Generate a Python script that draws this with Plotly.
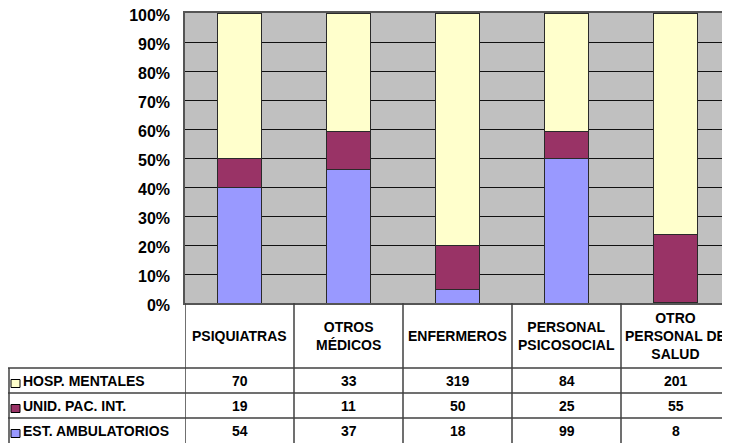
import plotly.graph_objects as go

categories = ['PSIQUIATRAS', 'OTROS<br>MÉDICOS', 'ENFERMEROS', 'PERSONAL<br>PSICOSOCIAL',
              'OTRO<br>PERSONAL DE<br>SALUD']
series_names = ['HOSP. MENTALES', 'UNID. PAC. INT.', 'EST. AMBULATORIOS']

# bar heights (% of column)
pct_ambulatorios = [39.8, 45.9, 4.5, 49.8, 0.3]
pct_unid_pac = [10.0, 13.4, 15.3, 9.5, 23.3]
pct_hosp = [50.2, 40.7, 80.2, 40.7, 76.4]

# values printed in the data table
tbl_hosp = [70, 33, 319, 84, 201]
tbl_unid_pac = [19, 11, 50, 25, 55]
tbl_ambulatorios = [54, 37, 18, 99, 8]

COLORS = {
    'HOSP. MENTALES': '#FFFFCC',
    'UNID. PAC. INT.': '#993366',
    'EST. AMBULATORIOS': '#9999FF',
}

# page body has an 8px margin, so the figure is drawn 8px smaller
PAGE_OFF = 8
W, H = 730 - PAGE_OFF, 443 - PAGE_OFF
L, T = 185 - PAGE_OFF, 13 - PAGE_OFF
PW, PH = 545, 290
R, B = W - L - PW, H - T - PH
PLOT_BOTTOM = 303  # in page pixels


def px_x(x):
    # page pixel -> paper x
    return (x - 185) / PW


def px_y(y):
    # page pixel -> paper y
    return (PLOT_BOTTOM - y) / PH


FONT = 'Arial, Liberation Sans, sans-serif'
idx = list(range(len(categories)))

fig = go.Figure()
for name, vals in [('EST. AMBULATORIOS', pct_ambulatorios),
                   ('UNID. PAC. INT.', pct_unid_pac),
                   ('HOSP. MENTALES', pct_hosp)]:
    fig.add_trace(go.Bar(
        x=idx, y=vals, name=name, width=0.4,
        marker=dict(color=COLORS[name], line=dict(color='#2a2a2a', width=1)),
        showlegend=False
    ))

fig.update_layout(
    width=W, height=H,
    margin=dict(l=L, r=R, t=T, b=B, pad=0),
    barmode='stack',
    plot_bgcolor='#C0C0C0',
    paper_bgcolor='white',
    font=dict(family=FONT, color='black'),
    xaxis=dict(range=[-0.5, 4.5], showticklabels=False, showgrid=False,
               zeroline=False, showline=True, linecolor='#555555', linewidth=1.5,
               mirror=True, automargin=False, fixedrange=True),
    yaxis=dict(range=[0, 100], dtick=10, ticksuffix='%',
               tickfont=dict(size=16, family=FONT, weight='bold'),
               showgrid=True, gridcolor='#111111', gridwidth=1,
               zeroline=False, showline=True, linecolor='#555555', linewidth=1.5,
               mirror=True, ticks='', ticklabelstandoff=10, ticklabelshift=2,
               ticklabeloverflow='allow', automargin=False, fixedrange=True),
)

line_style = dict(color='#404040', width=1.5)
shapes = []
# column separators of the data table
for i in range(len(categories) + 1):
    shapes.append(dict(type='line', xref='x', yref='paper',
                       x0=i - 0.5, x1=i - 0.5, y0=px_y(450), y1=0, line=line_style))
# left edge of the series label column
shapes.append(dict(type='line', xref='paper', yref='paper',
                   x0=px_x(9), x1=px_x(9), y0=px_y(450), y1=px_y(368), line=line_style))
for yy in [368, 393, 418]:
    shapes.append(dict(type='line', xref='paper', yref='paper',
                       x0=px_x(8), x1=1.01, y0=px_y(yy), y1=px_y(yy), line=line_style))

annotations = []
for i, c in enumerate(categories):
    annotations.append(dict(x=i, y=px_y(335.5), xref='x', yref='paper', text=c,
                            showarrow=False, xanchor='center', yanchor='middle',
                            font=dict(size=14, family=FONT, weight='bold')))

rows = [('HOSP. MENTALES', tbl_hosp, 380.5),
        ('UNID. PAC. INT.', tbl_unid_pac, 405.5),
        ('EST. AMBULATORIOS', tbl_ambulatorios, 430.5)]
for name, vals, yc in rows:
    shapes.append(dict(type='rect', xref='paper', yref='paper',
                       x0=px_x(11), x1=px_x(20), y0=px_y(yc + 7), y1=px_y(yc - 1),
                       fillcolor=COLORS[name], line=dict(color='black', width=1)))
    annotations.append(dict(x=px_x(21), y=px_y(yc), xref='paper', yref='paper', text=name,
                            showarrow=False, xanchor='left', yanchor='middle',
                            font=dict(size=14, family=FONT, weight='bold')))
    for i, v in enumerate(vals):
        annotations.append(dict(x=i, y=px_y(yc), xref='x', yref='paper', text=str(v),
                                showarrow=False, xanchor='center', yanchor='middle',
                                font=dict(size=14, family=FONT, weight='bold')))

fig.update_layout(shapes=shapes, annotations=annotations)

fig.write_html('out.html')
